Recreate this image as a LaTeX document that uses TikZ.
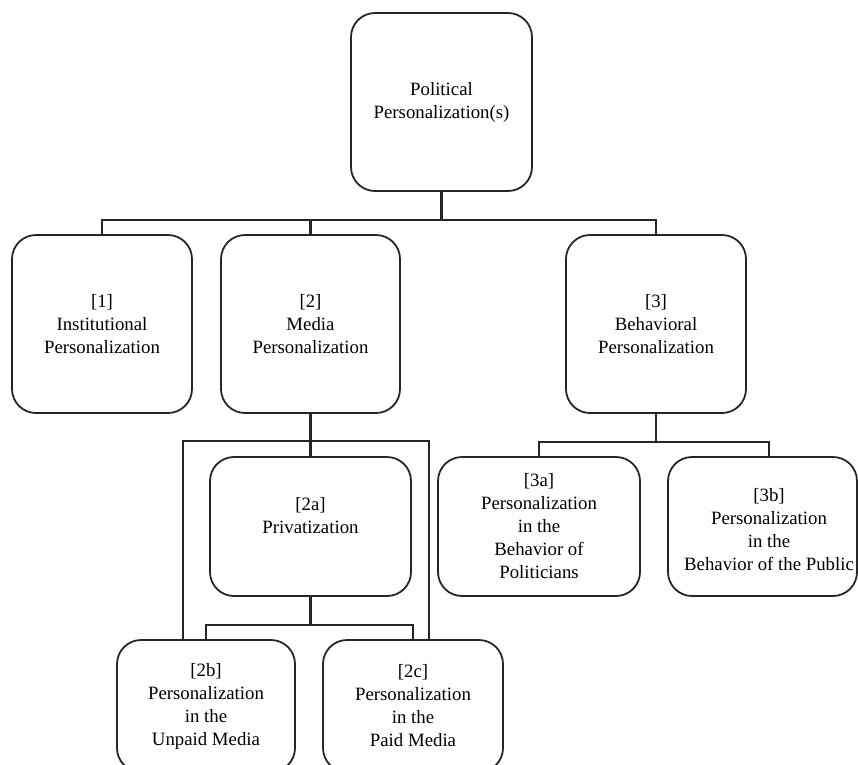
\documentclass[tikz,border=0pt]{standalone}
\usepackage{fontspec}
\setmainfont{Liberation Serif}
\begin{document}
\begin{tikzpicture}[x=1pt,y=-1pt,
  box/.style={draw=black!85, line width=1.8pt, rounded corners=24pt, inner sep=0pt, align=center,
    font=\fontsize{18.8}{23}\selectfont, text=black},
  txt/.style={inner sep=0pt, align=center, font=\fontsize{18.8}{23}\selectfont, text=black},
  conn/.style={draw=black!85, line width=2.4pt}]
\useasboundingbox (0,0) rectangle (858,764);
\clip (0,0) rectangle (858,764);
% boxes
\node[box, minimum width=181pt, minimum height=178pt] (top) at (441.5,102) {Political\\Personalization(s)};
\node[box, minimum width=180pt, minimum height=178pt] (b1) at (102,324) {[1]\\Institutional\\Personalization};
\node[box, minimum width=179pt, minimum height=178pt] (b2) at (310.5,324) {[2]\\Media\\Personalization};
\node[box, minimum width=180pt, minimum height=178pt] (b3) at (656,324) {[3]\\Behavioral\\Personalization};
\node[box, minimum width=201pt, minimum height=139pt] (b2a) at (310.5,526.5) {[2a]\\Privatization\\\mbox{}};
\node[box, minimum width=178pt, minimum height=132pt] (b2b) at (206,706) {[2b]\\Personalization\\in the\\Unpaid Media};
\node[box, minimum width=180pt, minimum height=132pt] (b2c) at (413,706) {[2c]\\Personalization\\in the\\Paid Media};
\node[box, minimum width=202pt, minimum height=139pt] (b3a) at (539,526.5) {[3a]\\Personalization\\in the\\Behavior of\\Politicians};
\node[box, minimum width=189pt, minimum height=139pt] (b3b) at (762.5,526.5) {};
\node[txt] (t3b) at (769,530) {[3b]\\Personalization\\in the\\Behavior of the Public};
% connectors: level 1
\coordinate (j0) at (441.5,220);
\draw[conn] (top.south) -- (j0);
\draw[conn] (b1.north) |- (b3.north |- j0) -- (b3.north);
\draw[conn] (b2.north) -- (b2.north |- j0);
% media branch
\coordinate (L2) at (183,441);
\coordinate (R2) at (429,441);
\draw[conn] (b2.south) -- (b2a.north);
\draw[conn] (L2 |- b2b.north) -- (L2) -- (R2) -- (R2 |- b2c.north);
\coordinate (j2a) at (310.5,625);
\draw[conn] (b2a.south) -- (j2a);
\draw[conn] (b2b.north) |- (j2a) -| (b2c.north);
% behavioral branch
\coordinate (j3) at (656,442);
\coordinate (k3b) at (769,442);
\draw[conn] (b3.south) -- (j3);
\draw[conn] (b3a.north) |- (k3b) -- (k3b |- b3b.north);
\end{tikzpicture}
\end{document}
